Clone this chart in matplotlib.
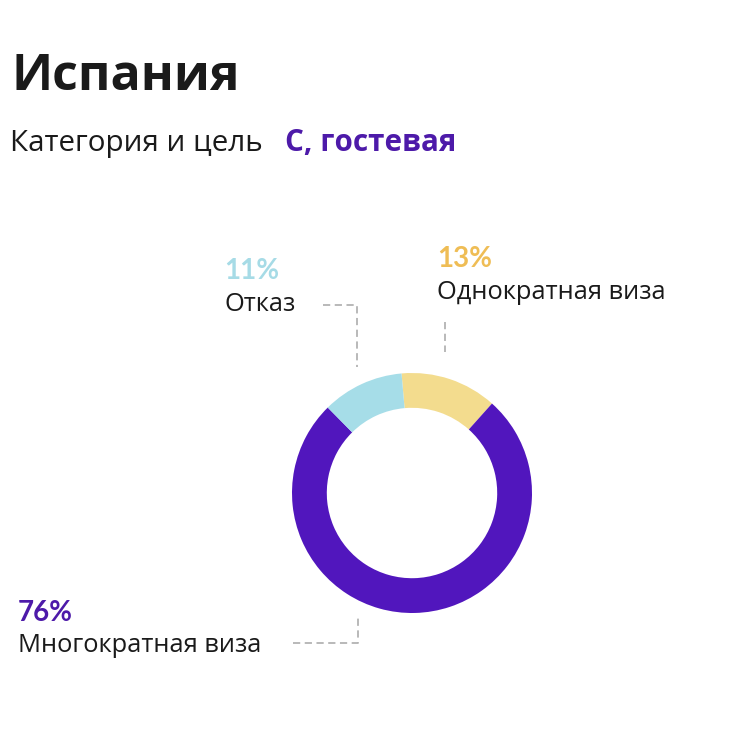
import matplotlib
matplotlib.use("Agg")
import matplotlib.pyplot as plt

# ---- data ----
title = "Испания"
subtitle = "Категория и цель"
subtitle_value = "С, гостевая"
categories = ["Однократная виза", "Многократная виза", "Отказ"]
values = [13, 76, 11]
pct_labels = ["13%", "76%", "11%"]
colors = ["#f3dc8e", "#5116bd", "#a6dde8"]
pct_colors = ["#efbd55", "#4d1aa9", "#a6dbe6"]

W, H = 738, 750
fig = plt.figure(figsize=(W / 100, H / 100), dpi=100)
fig.patch.set_facecolor("white")

# overlay axes in pixel coordinates (y downward)
ov = fig.add_axes([0, 0, 1, 1])
ov.set_xlim(0, W)
ov.set_ylim(H, 0)
ov.axis("off")

# donut axes
cx, cy, r = 412, 493, 120
pax = fig.add_axes([(cx - r) / W, (H - cy - r) / H, 2 * r / W, 2 * r / H])
pax.pie(values, colors=colors, startangle=95, counterclock=False,
        radius=1.0, wedgeprops=dict(width=0.29, edgecolor="none"))
pax.set_xlim(-1, 1)
pax.set_ylim(-1, 1)
pax.set_aspect("equal")
pax.axis("off")

font = "Open Sans"
ov.text(12, 90, title, fontsize=36, fontweight="bold", color="#1a1a1a",
        family=font, va="baseline", ha="left")
ov.text(10, 151, subtitle, fontsize=21.3, color="#1a1a1a", family=font,
        va="baseline", ha="left")
ov.text(285, 151, subtitle_value, fontsize=21.3, fontweight="bold",
        color="#4d1aa9", family=font, va="baseline", ha="left")

# labels: (x, pct baseline, name baseline)
label_pos = [(437, 267, 299), (18, 621, 652), (224, 279, 311)]
for (x, yb1, yb2), name, pct, pc in zip(label_pos, categories, pct_labels, pct_colors):
    ov.text(x, yb1, pct, fontsize=20, fontweight="bold", color=pc,
            family="Lato", va="baseline", ha="left")
    ov.text(x, yb2, name, fontsize=18.4, color="#1a1a1a", family=font,
            va="baseline", ha="left")

# connector lines
lk = dict(color="#b3b3b3", lw=1.3, ls=(0, (4, 2.5)))
ov.plot([323, 357, 357], [305, 305, 367], **lk)
ov.plot([445, 445], [322, 352], **lk)
ov.plot([293, 358, 358], [643, 643, 615], **lk)

fig.savefig("out.png", dpi=100, facecolor="white")
